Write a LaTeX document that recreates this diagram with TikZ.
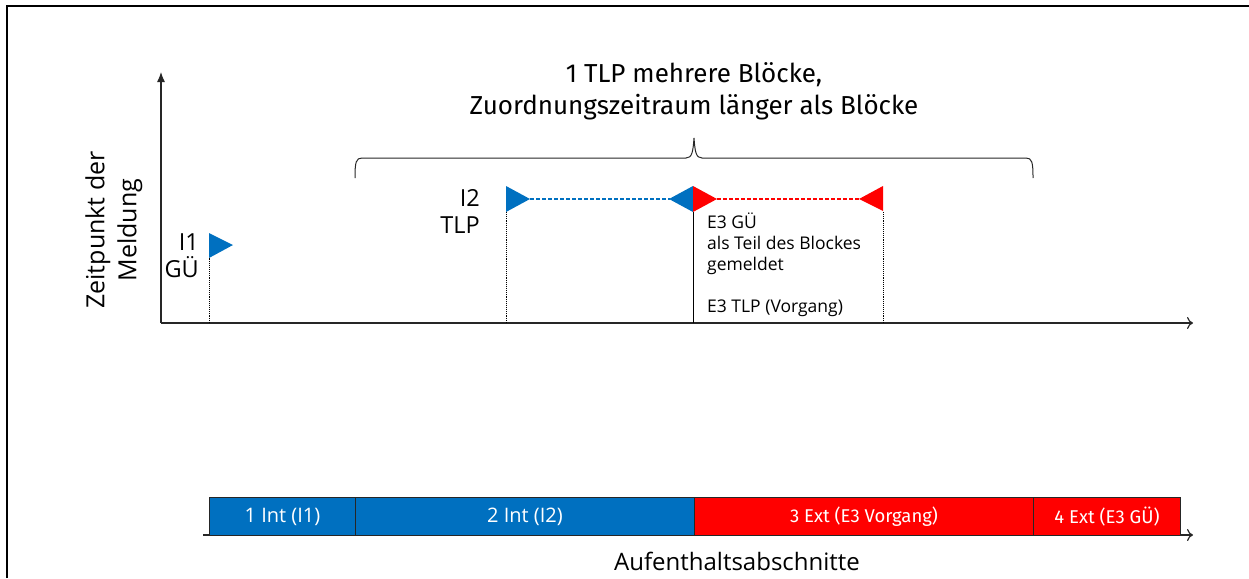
\documentclass[tikz,border=0pt]{standalone}
\usepackage{fontspec}
\setmainfont{Fira Sans}
\newfontfamily\segfont{Open Sans}
\usetikzlibrary{arrows.meta}
\definecolor{fblue}{RGB}{0,112,192}
\definecolor{fred}{RGB}{255,0,0}
\tikzset{
  axisline/.style={line width=1.2pt, draw=black!85},
  pole/.style={densely dotted, line width=0.9pt},
  flagblue/.style={fill=fblue, draw=none},
  flagred/.style={fill=fred, draw=none},
  dashline/.style={line width=1.3pt, dash pattern=on 4pt off 2pt},
  seg/.style={draw=black!85, line width=1pt, minimum height=38pt, inner sep=0pt, text=white},
  lbl/.style={font=\segfont\fontsize{23.5}{27}\selectfont, align=right, inner sep=0pt},
  small/.style={font=\segfont\fontsize{17.5}{21}\selectfont, align=left, inner sep=0pt},
}
\begin{document}
\begin{tikzpicture}[x=1pt,y=-1pt]
\useasboundingbox (0,0) rectangle (1249,578);
% frame
\draw[line width=1.2pt] (7,578) -- (7,6) -- (1249,6);
% axes
\coordinate (O) at (161,323);
\coordinate (Ytop) at (161,72);
\coordinate (Xend) at (1193,323);
\draw[axisline, -{Latex[length=10pt,width=8pt]}] (O) -- (Ytop);
\draw[axisline, -{To[length=6pt,width=12pt]}] (O) -- (Xend);
% y label
\node[rotate=90, font=\segfont\fontsize{25}{32}\selectfont, align=center, inner sep=0pt] (ylab) at (114,230) {Zeitpunkt der\\Meldung};
% title
\node[font=\fontsize{26}{32}\selectfont, align=center, inner sep=0pt] (title) at (694,91) {1 TLP mehrere Blöcke,\\Zuordnungszeitraum länger als Blöcke};
% brace
\draw[line width=1pt, draw=black!85] (355,178) .. controls (355,162) and (356,158) .. (362,158) -- (686,158) .. controls (692,158) and (693,152) .. (694,138) .. controls (695,152) and (696,158) .. (702,158) -- (1026,158) .. controls (1032,158) and (1033,162) .. (1033,178);
% I1 flag
\coordinate (i1base) at (209,323);
\coordinate (i1top) at (209,257);
\draw[pole] (i1base) -- (i1top);
\fill[flagblue] (209,233) -- (233,245) -- (209,258) -- cycle;
\node[lbl, anchor=base east] (i1) at (199,277) {I1\\GÜ};
% I2 flag
\coordinate (i2base) at (506,323);
\coordinate (i2top) at (506,212);
\draw[pole] (i2base) -- (i2top);
\fill[flagblue] (506,186) -- (530,199) -- (506,212) -- cycle;
\node[lbl, anchor=base east] (i2) at (480,233) {I2\\TLP};
% blue dashed
\coordinate (b1) at (530,199);
\coordinate (b2) at (670,199);
\draw[fblue, dashline] (b1) -- (b2);
\fill[flagblue] (693,186) -- (669,199) -- (693,212) -- cycle;
% red
\fill[flagred] (693,186) -- (717,199) -- (693,212) -- cycle;
\coordinate (r1) at (717,199);
\coordinate (r2) at (859,199);
\draw[fred, dashline] (r1) -- (r2);
\fill[flagred] (883,186) -- (859,199) -- (883,211) -- cycle;
% poles
\coordinate (e3base) at (693,323);
\coordinate (e3top) at (693,212);
\draw[line width=1pt] (e3base) -- (e3top);
\coordinate (e4base) at (883,323);
\coordinate (e4top) at (883,211);
\draw[pole] (e4base) -- (e4top);
% E3 texts
\node[small, anchor=base west] (e3a) at (707,270) {E3 GÜ\\als Teil des Blockes\\gemeldet};
\node[small, anchor=base west] (e3b) at (707,312) {E3 TLP (Vorgang)};
% bottom axis
\coordinate (bstart) at (203,535);
\coordinate (bend) at (1193,535);
\draw[axisline, -{To[length=6pt,width=12pt]}] (bstart) -- (bend);
% segments
\node[seg, fill=fblue, minimum width=146pt, anchor=north west, font=\segfont\fontsize{20}{22}\selectfont] (s1) at (209,497) {1 Int (I1)};
\node[seg, fill=fblue, minimum width=339pt, anchor=north west, font=\segfont\fontsize{20}{22}\selectfont] (s2) at (355,497) {2 Int (I2)};
\node[seg, fill=fred, minimum width=339pt, anchor=north west, font=\fontsize{18.5}{20}\selectfont] (s3) at (694,497) {3 Ext (E3 Vorgang)};
\node[seg, fill=fred, minimum width=147pt, anchor=north west, font=\fontsize{18.5}{20}\selectfont] (s4) at (1033,497) {4 Ext (E3 GÜ)};
\node[font=\segfont\fontsize{24}{26}\selectfont, inner sep=0pt] (xlab) at (737,561) {Aufenthaltsabschnitte};
\end{tikzpicture}
\end{document}
